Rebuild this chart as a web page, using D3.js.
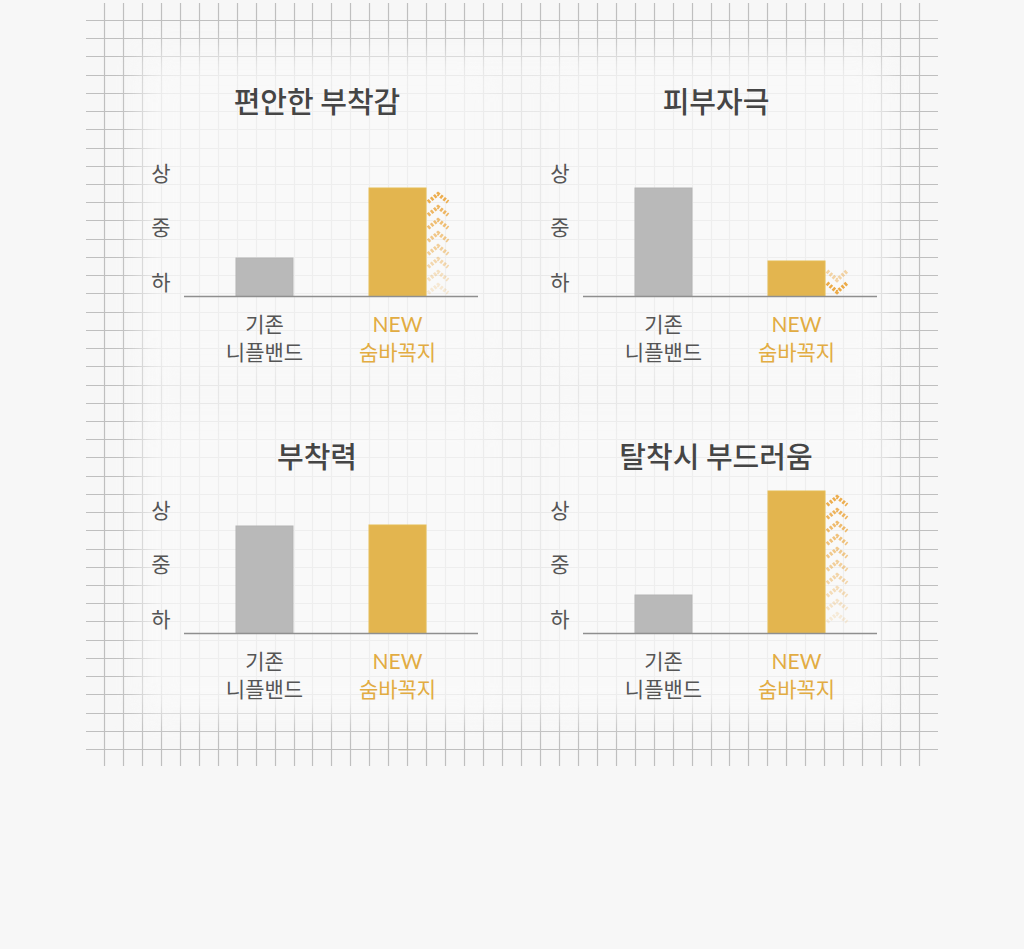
<!DOCTYPE html>
<html>
<head>
<meta charset="utf-8">
<script src="https://cdn.jsdelivr.net/npm/d3@7"></script>
<style>
  body { margin: 0; background: #f7f7f7; }
  svg { display: block; }
</style>
</head>
<body>
<div id="viz"></div>
<script>
// chart data
var titles = ['편안한 부착감', '피부자극', '부착력', '탈착시 부드러움'];
var oldValues = [38, 108, 107, 38];   // 기존 니플밴드
var newValues = [108, 35, 108, 142];  // NEW 숨바꼭지
var trends = ['up', 'down', 'none', 'up'];
var levelLabels = ['하', '중', '상'];
var levelValues = [15, 70, 124];
var categories = [['기존', '니플밴드'], ['NEW', '숨바꼭지']];

var width = 1024, height = 949;
var gray = '#b9b9b9', gold = '#e3b54f', goldText = '#e2ac42';
var krFont = '"Noto Sans CJK KR", "Noto Sans", sans-serif';

var svg = d3.select('#viz')
  .append('svg')
  .attr('width', width)
  .attr('height', height);

var defs = svg.append('defs');
defs.append('filter').attr('id', 'blur')
  .attr('x', '-20%').attr('y', '-20%').attr('width', '140%').attr('height', '140%')
  .append('feGaussianBlur').attr('stdDeviation', 14);
defs.append('filter').attr('id', 'soft')
  .append('feGaussianBlur').attr('stdDeviation', 0.5);

// background graph paper
var gx = d3.scaleLinear().domain([0, 43]).range([104, 919]);
var gy = d3.scaleLinear().domain([0, 40]).range([20, 749]);
var grid = svg.append('g').attr('stroke', '#bfbfbf').attr('stroke-width', 1.2)
  .attr('filter', 'url(#soft)');
grid.selectAll('.v').data(d3.range(44)).join('line')
  .attr('x1', d => Math.round(gx(d)) + 0.5).attr('x2', d => Math.round(gx(d)) + 0.5)
  .attr('y1', 3).attr('y2', 766);
grid.selectAll('.h').data(d3.range(41)).join('line')
  .attr('y1', d => Math.round(gy(d)) + 0.5).attr('y2', d => Math.round(gy(d)) + 0.5)
  .attr('x1', 86).attr('x2', 938);

// wash out the middle of the paper
svg.append('rect')
  .attr('x', 140).attr('y', 50).attr('width', 745).attr('height', 665)
  .attr('fill', '#f9f9f9').attr('opacity', 0.68)
  .attr('filter', 'url(#blur)');
svg.selectAll('.wash').data(d3.range(4)).join('rect')
  .attr('x', d => 150 + (d % 2) * 399).attr('y', d => 70 + Math.floor(d / 2) * 345)
  .attr('width', 340).attr('height', 300)
  .attr('fill', '#fbfbfb').attr('opacity', 0.4)
  .attr('filter', 'url(#blur)');

// panels
titles.forEach(function(title, i) {
  var col = i % 2, row = Math.floor(i / 2);
  var dx = col * 399;
  var base = row ? 633 : 296;
  var g = svg.append('g');

  var x = d3.scalePoint().domain([0, 1]).range([184 + dx, 478 + dx]).padding(0.605);
  var y = d3.scaleLinear().domain([0, 150]).range([base, base - 150]);
  var bw = 57;

  g.append('text')
    .attr('x', 317 + dx).attr('y', row ? 455 : 100)
    .attr('text-anchor', 'middle').attr('dominant-baseline', 'central')
    .attr('font-family', krFont).attr('font-weight', 500).attr('font-size', 29)
    .attr('fill', '#454545').text(title);

  g.selectAll('.lvl').data(levelValues).join('text')
    .attr('x', 161 + dx).attr('y', d => y(d))
    .attr('text-anchor', 'middle').attr('dominant-baseline', 'central')
    .attr('font-family', krFont).attr('font-size', 21).attr('fill', '#555')
    .text((d, k) => levelLabels[k]);

  var vals = [oldValues[i], newValues[i]];
  g.selectAll('.bar').data(vals).join('rect')
    .attr('x', (d, k) => x(k) - bw / 2).attr('width', bw)
    .attr('y', d => y(d)).attr('height', d => y(0) - y(d))
    .attr('fill', (d, k) => k ? gold : gray)
    .attr('stroke', (d, k) => k ? '#e6bd55' : '#b4b4b4').attr('stroke-width', 1);

  g.append('line')
    .attr('x1', 184 + dx).attr('x2', 478 + dx)
    .attr('y1', base + 0.5).attr('y2', base + 0.5)
    .attr('stroke', '#8f8f8f').attr('stroke-width', 1.5);

  categories.forEach(function(lines, k) {
    g.selectAll('.cat' + k).data(lines).join('text')
      .attr('x', x(k)).attr('y', (d, j) => base + 27 + j * 28)
      .attr('text-anchor', 'middle').attr('dominant-baseline', 'central')
      .attr('font-family', (d, j) => (k && j === 0) ? 'Lato, "Open Sans", sans-serif' : krFont)
      .attr('font-size', 21)
      .attr('fill', k ? goldText : '#555')
      .text(d => d);
  });

  // chevrons beside the new bar
  var cx = x(1) + bw / 2 + 12;
  if (trends[i] === 'up') {
    var top = y(newValues[i]) + 4;
    var n = Math.floor((base - top) / 13);
    g.selectAll('.chev').data(d3.range(n)).join('path')
      .attr('d', d => 'M' + (cx - 10) + ',' + (top + d * 13 + 10) + ' L' + cx + ',' + (top + d * 13 + 2) + ' L' + (cx + 10) + ',' + (top + d * 13 + 10))
      .attr('fill', 'none').attr('stroke', '#eba53c').attr('stroke-width', 4)
      .attr('stroke-dasharray', '2.5 1.5')
      .attr('opacity', d => 0.9 - d * 0.8 / n);
  } else if (trends[i] === 'down') {
    var tp = y(newValues[i]) + 4;
    g.selectAll('.chev').data([0, 1]).join('path')
      .attr('d', d => 'M' + (cx - 10) + ',' + (tp + d * 12 + 6) + ' L' + cx + ',' + (tp + d * 12 + 15) + ' L' + (cx + 10) + ',' + (tp + d * 12 + 6))
      .attr('fill', 'none').attr('stroke', '#eba53c').attr('stroke-width', 4)
      .attr('stroke-dasharray', '2.5 1.5')
      .attr('opacity', d => d ? 0.95 : 0.45);
  }
});
</script>
</body>
</html>
